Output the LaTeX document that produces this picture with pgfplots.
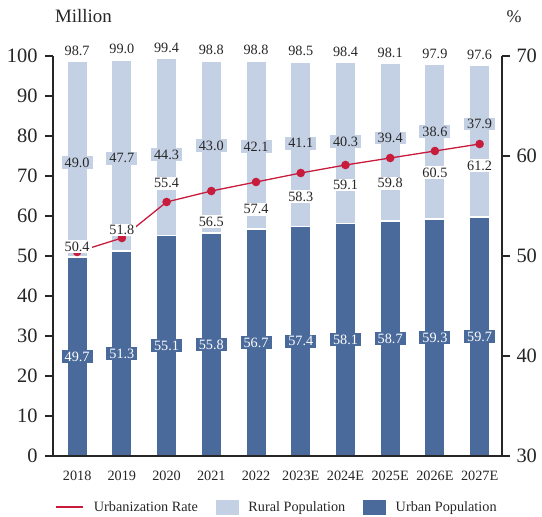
\documentclass[border=0pt]{standalone}
\usepackage{fontspec}
\setmainfont{Liberation Serif}
\usepackage{pgfplots}
\usepackage{pgfplotstable}
\pgfplotsset{compat=1.18}

\definecolor{urbanblue}{RGB}{74,106,155}
\definecolor{ruralblue}{RGB}{196,208,228}
\definecolor{ratered}{RGB}{200,28,60}
\definecolor{txt}{RGB}{38,38,38}

% population in million, urbanization rate in %
% ry: height of rural label (left axis), ly: height of rate label (right axis)
\pgfplotstableread{
x year  urban rural total rate ry   ly
0 2018  49.7  49.0  98.7  50.4 73.4 50.93
1 2019  51.3  47.7  99.0  51.8 74.4 52.6
2 2020  55.1  44.3  99.4  55.4 75.4 57.27
3 2021  55.8  43.0  98.8  56.5 77.6 53.43
4 2022  56.7  42.1  98.8  57.4 77.3 54.67
5 2023E 57.4  41.1  98.5  58.3 78.2 55.93
6 2024E 58.1  40.3  98.4  59.1 78.6 57.1
7 2025E 58.7  39.4  98.1  59.8 79.5 57.27
8 2026E 59.3  38.6  97.9  60.5 81.1 58.33
9 2027E 59.7  37.9  97.6  61.2 83.0 59.03
}\datatable

\newcommand{\valfont}{\fontsize{14.3}{16}\selectfont}

\pgfplotsset{
  common/.style={
    at={(0bp,0bp)}, anchor=south west,
    scale only axis, width=449bp, height=400bp,
    xmin=-0.54, xmax=9.5,
    /pgf/number format/assume math mode=true,
  },
  lbl/.style={
    draw=none, mark=none, forget plot,
    point meta=explicit symbolic,
    nodes near coords={\pgfplotspointmeta},
  },
}

\begin{document}
\begin{tikzpicture}
\useasboundingbox (-53bp,-61bp) rectangle (489bp,456bp);

% stacked bars, left axis
\begin{axis}[common,
  ymin=0, ymax=100,
  ybar stacked, bar width=20.5bp,
  axis y line*=left, axis x line*=bottom,
  axis line style={line width=1.4bp, color=txt, -},
  xtick={0,...,9},
  xticklabels={2018,2019,2020,2021,2022,2023E,2024E,2025E,2026E,2027E},
  x tick style={draw=none},
  ytick={0,10,...,100},
  y tick style={line width=1.3bp, color=txt},
  tick align=outside, major tick length=8bp,
  yticklabel style={font=\fontsize{20.5}{24}\selectfont, text=txt, xshift=-4bp},
  xticklabel style={font=\valfont, text=txt, yshift=-4bp},
  axis on top,
]
\addplot[fill=urbanblue, draw=white, line width=1.5bp] table[x=x, y=urban]{\datatable};
\addplot[fill=ruralblue, draw=white, line width=1.5bp] table[x=x, y=rural]{\datatable};
\end{axis}

% value labels on the bars, left axis units
\begin{axis}[common, ymin=0, ymax=100, hide axis]
\addplot[lbl, nodes near coords style={anchor=center, fill=urbanblue, text=white,
    font=\valfont, inner xsep=3bp, inner ysep=1.6bp}]
  table[x=x, y expr=\thisrow{urban}/2, meta=urban]{\datatable};
\addplot[lbl, nodes near coords style={anchor=center, fill=ruralblue, text=txt,
    font=\valfont, inner xsep=3bp, inner ysep=1.6bp}]
  table[x=x, y=ry, meta=rural]{\datatable};
\addplot[lbl, nodes near coords style={anchor=base, yshift=6bp, text=txt,
    font=\valfont, inner sep=0pt}]
  table[x=x, y=total, meta=total]{\datatable};
\end{axis}

% urbanization rate, right axis
\begin{axis}[common,
  ymin=30, ymax=70,
  axis y line*=right, axis x line=none,
  axis line style={line width=1.4bp, color=txt, -},
  ytick={30,40,...,70},
  y tick style={line width=1.3bp, color=txt},
  tick align=outside, major tick length=8bp,
  yticklabel style={font=\fontsize{20.5}{24}\selectfont, text=txt, xshift=3bp},
  legend columns=3,
  legend style={at={(axis description cs:0.497,-0.1275)}, anchor=center,
    draw=none, fill=none, font=\valfont, text=txt,
    nodes={inner xsep=0bp, inner ysep=1bp},
    /tikz/every even column/.append style={column sep=18bp}},
]
\addplot[color=ratered, line width=1.3bp, mark=*, mark size=3.6bp,
  mark options={fill=ratered, draw=ratered},
  legend image code/.code={\draw[ratered, line width=1.3bp] (0bp,0bp) -- (27bp,0bp);
    \path (37bp,0bp);}]
  table[x=x, y=rate]{\datatable};
\addlegendentry{Urbanization Rate}
\addplot[lbl, nodes near coords style={anchor=center, fill=white, text=txt,
    font=\valfont, inner xsep=2bp, inner ysep=1.6bp}]
  table[x=x, y=ly, meta=rate]{\datatable};
\addlegendimage{legend image code/.code={\fill[ruralblue] (0bp,-7bp) rectangle (22bp,7bp);
    \path (32bp,0bp);}}
\addlegendentry{Rural Population}
\addlegendimage{legend image code/.code={\fill[urbanblue] (0bp,-7bp) rectangle (22bp,7bp);
    \path (32bp,0bp);}}
\addlegendentry{Urban Population}
\end{axis}

\node[anchor=base, font=\fontsize{19}{22}\selectfont, text=txt] at (30.5bp,433bp) {Million};
\node[anchor=base, font=\fontsize{18}{22}\selectfont, text=txt] at (461bp,433bp) {\%};
\end{tikzpicture}
\end{document}
